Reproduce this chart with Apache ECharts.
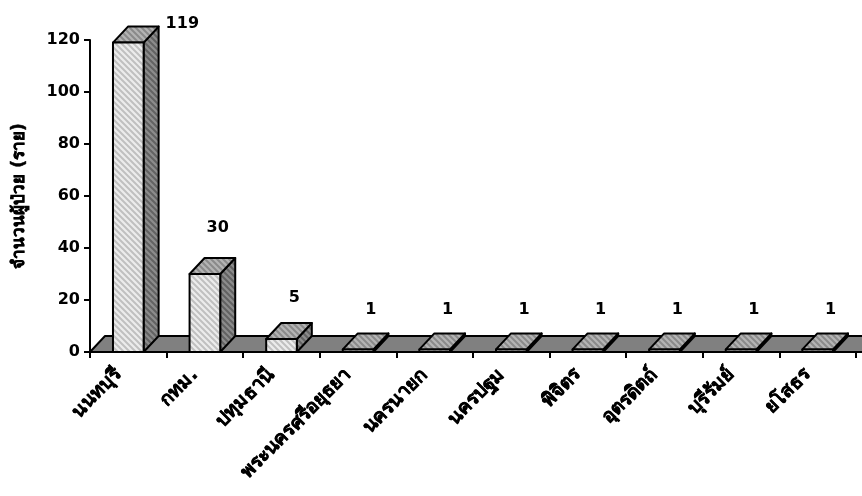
<!DOCTYPE html>
<html>
<head>
<meta charset="utf-8">
<script src="https://cdn.jsdelivr.net/npm/echarts@6/dist/echarts.min.js"></script>
<style>
  html, body { margin: 0; padding: 0; background: #fff; }
  #chart { width: 862px; height: 496px; }
</style>
</head>
<body>
<div id="chart"></div>
<script>
// Patients by province
const provinces = ['นนทบุรี', 'กทม.', 'ปทุมธานี', 'พระนครศรีอยุธยา', 'นครนายก', 'นครปฐม', 'พิจิตร', 'อุตรดิตถ์', 'บุรีรัมย์', 'ยโสธร'];
const patients = [119, 30, 5, 1, 1, 1, 1, 1, 1, 1];
const yTitle = 'จำนวนผู้ป่วย (ราย)';

const FONT = "'DejaVu Sans', Verdana, Tahoma, sans-serif";
const DX = 15;   // oblique depth, horizontal
const DY = 16;   // oblique depth, vertical

// small diagonal hatch tile used for the bar faces
function hatch(base, stripe) {
  const s = 6;
  const c = document.createElement('canvas');
  c.width = s; c.height = s;
  const g = c.getContext('2d');
  g.fillStyle = base;
  g.fillRect(0, 0, s, s);
  g.strokeStyle = stripe;
  g.lineWidth = 2;
  g.beginPath();
  g.moveTo(-s, 0); g.lineTo(s, 2 * s);
  g.moveTo(0, 0); g.lineTo(s, s);
  g.moveTo(0, -s); g.lineTo(2 * s, s);
  g.stroke();
  return { image: c, repeat: 'repeat' };
}
const frontFill = hatch('#ececec', '#c0c0c0');
const topFill = hatch('#b4b4b4', '#8a8a8a');
const sideFill = hatch('#8c8c8c', '#626262');

const edge = { stroke: '#000', lineWidth: 2, lineJoin: 'round' };

function renderFloor(params, api) {
  const cs = params.coordSys;
  const x0 = cs.x, x1 = cs.x + cs.width + DX, y0 = cs.y + cs.height;
  return {
    type: 'polygon',
    shape: { points: [[x0, y0], [x0 + DX, y0 - DY], [x1 + DX, y0 - DY], [x1, y0]] },
    style: Object.assign({ fill: '#808080' }, edge)
  };
}

function renderBar(params, api) {
  const idx = api.value(0);
  const v = api.value(1);
  const top = api.coord([idx, v]);
  const base = api.coord([idx, 0]);
  const bw = api.size([1, 0])[0];
  const half = bw * 0.2;
  const x0 = top[0] - half, x1 = top[0] + half;
  const yT = top[1], yB = base[1];
  const cs = params.coordSys;

  // value label sits above the bar, or beside it when there is no room above
  const backTop = yT - DY;
  const gap = 22 + Math.min(8, Math.sqrt(v) * 1.5);
  let label;
  if (backTop - gap < cs.y) {
    label = { x: x1 + DX + 7, y: backTop - 3, align: 'left' };
  } else {
    label = { x: top[0] + DX * 0.85, y: backTop - gap, align: 'center' };
  }

  return {
    type: 'group',
    children: [
      { type: 'polygon', shape: { points: [[x1, yT], [x1 + DX, yT - DY], [x1 + DX, yB - DY], [x1, yB]] },
        style: Object.assign({ fill: sideFill }, edge) },
      { type: 'polygon', shape: { points: [[x0, yT], [x0 + DX, yT - DY], [x1 + DX, yT - DY], [x1, yT]] },
        style: Object.assign({ fill: topFill }, edge) },
      { type: 'rect', shape: { x: x0, y: yT, width: x1 - x0, height: yB - yT },
        style: Object.assign({ fill: frontFill }, edge) },
      { type: 'text', x: label.x, y: label.y,
        style: { text: String(v), fill: '#000', font: 'bold 16px ' + FONT,
                 align: label.align, verticalAlign: 'middle' } }
    ]
  };
}

const chart = echarts.init(document.getElementById('chart'), null, { renderer: 'canvas' });
chart.setOption({
  animation: false,
  backgroundColor: '#fff',
  grid: { left: 90, right: 6, top: 40, bottom: 144, containLabel: false, outerBoundsMode: 'none' },
  xAxis: {
    type: 'category',
    data: provinces,
    z: 5,
    axisLine: { lineStyle: { color: '#000', width: 2 } },
    axisTick: { show: true, length: 6, lineStyle: { color: '#000', width: 2 } },
    axisLabel: {
      rotate: 45, interval: 0, margin: 10, padding: [0, 14, 0, 0],
      color: '#000', fontWeight: 'bold', fontSize: 19, fontFamily: FONT,
      textBorderColor: '#000', textBorderWidth: 0.5
    },
    splitLine: { show: false }
  },
  yAxis: {
    type: 'value',
    min: 0, max: 120, interval: 20,
    name: yTitle,
    nameLocation: 'middle',
    nameGap: 62,
    nameTextStyle: { color: '#000', fontWeight: 'bold', fontSize: 17, fontFamily: FONT,
                     textBorderColor: '#000', textBorderWidth: 0.5 },
    axisLine: { show: true, lineStyle: { color: '#000', width: 2 } },
    axisTick: { show: true, length: 6, lineStyle: { color: '#000', width: 2 } },
    axisLabel: { margin: 10, color: '#000', fontWeight: 'bold', fontSize: 16, fontFamily: FONT },
    splitLine: { show: false }
  },
  series: [
    {
      type: 'custom',
      z: 1,
      clip: false,
      silent: true,
      renderItem: renderFloor,
      data: [[0, 0]]
    },
    {
      type: 'custom',
      z: 2,
      clip: false,
      renderItem: renderBar,
      encode: { x: 0, y: 1 },
      data: patients.map((v, i) => [i, v])
    }
  ]
});
</script>
</body>
</html>
